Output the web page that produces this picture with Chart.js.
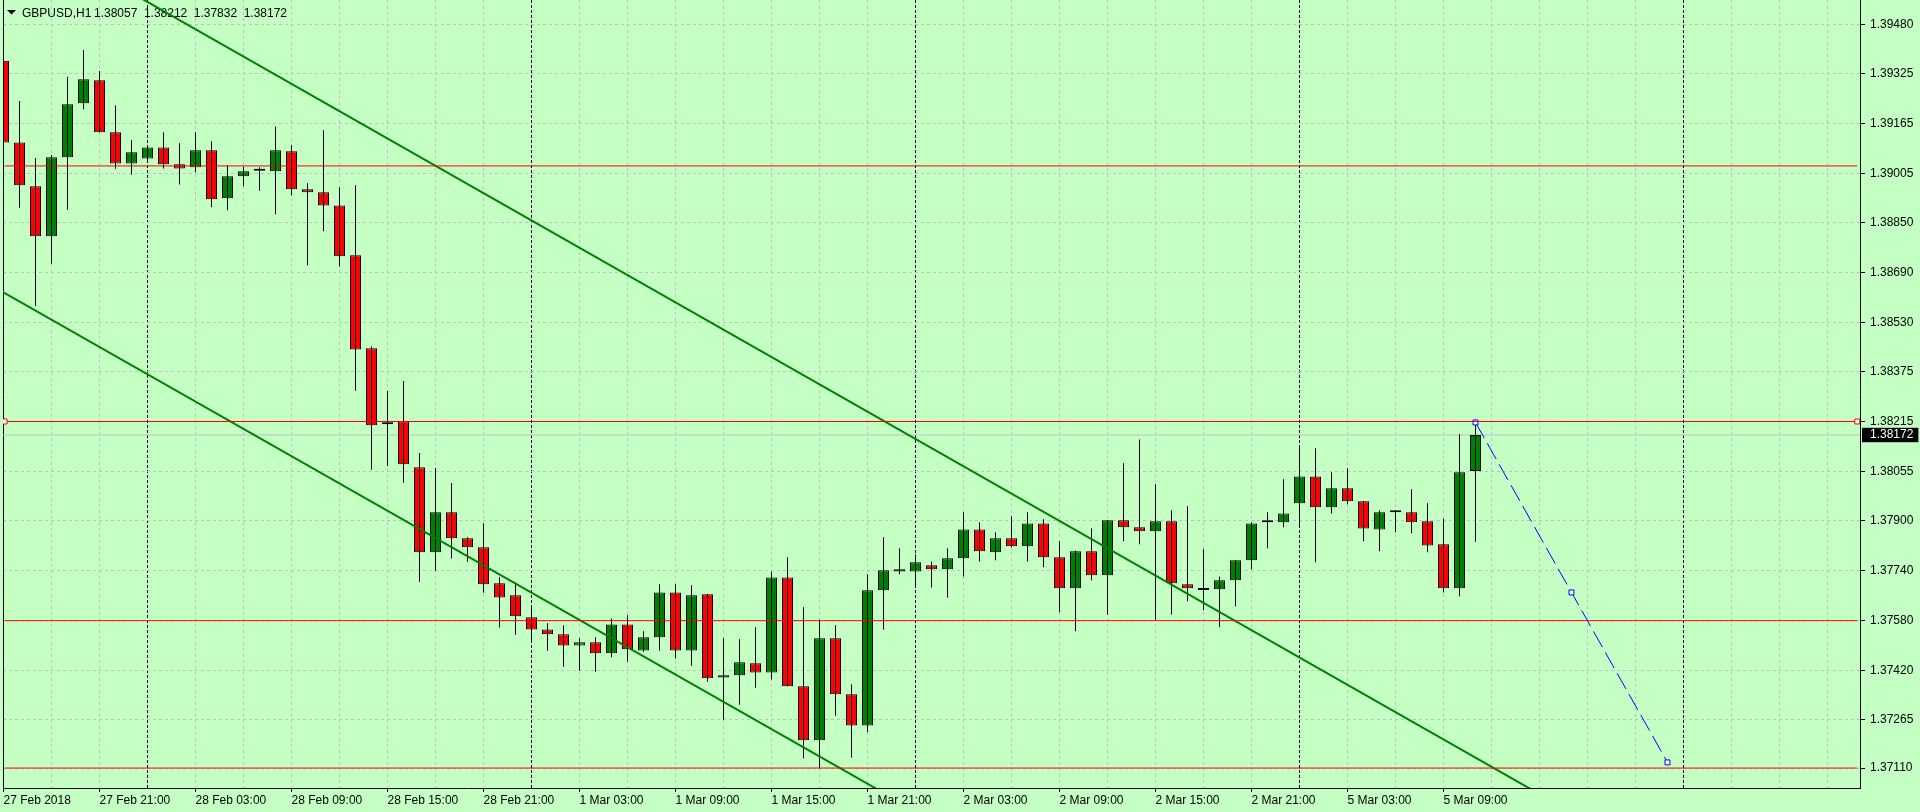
<!DOCTYPE html>
<html>
<head>
<meta charset="utf-8">
<script src="https://cdn.jsdelivr.net/npm/chart.js@4.4.0/dist/chart.umd.min.js"></script>
<style>
html,body{margin:0;padding:0;background:#c4ffc4;overflow:hidden}
canvas{display:block}
</style>
</head>
<body>
<canvas id="c" width="1920" height="812" style="width:1920px;height:812px"></canvas>
<script>
const symbol = 'GBPUSD,H1';
const opens = [1.39365,1.39105,1.38965,1.38806,1.39058,1.39230,1.39303,1.39137,1.39038,1.39054,
1.39089,1.39035,1.39026,1.39080,1.38927,1.38997,1.39015,1.39013,1.39077,1.38956,
1.38946,1.38904,1.38745,1.38449,1.38206,1.38216,1.38069,1.37798,1.37926,1.37843,
1.37814,1.37699,1.37661,1.37591,1.37552,1.37537,1.37501,1.37511,1.37476,1.37568,
1.37485,1.37527,1.37670,1.37485,1.37664,1.37399,1.37406,1.37444,1.37415,1.37718,
1.37371,1.37199,1.37524,1.37345,1.37246,1.37677,1.37737,1.37737,1.37757,1.37744,
1.37779,1.37871,1.37798,1.37843,1.37817,1.37890,1.37782,1.37683,1.37801,1.37725,
1.37900,1.37878,1.37865,1.37897,1.37696,1.37678,1.37680,1.37709,1.37773,1.37894,
1.37894,1.37954,1.38040,1.37942,1.38002,1.37961,1.37871,1.37926,1.37926,1.37897,
1.37824,1.37683,1.38057];
const highs = [1.39426,1.39237,1.39055,1.39065,1.39314,1.39400,1.39333,1.39223,1.39113,1.39089,
1.39137,1.39102,1.39137,1.39109,1.39032,1.39028,1.39026,1.39156,1.39096,1.38975,
1.39144,1.38962,1.38968,1.38454,1.38312,1.38344,1.38115,1.38067,1.38019,1.37846,
1.37890,1.37719,1.37702,1.37623,1.37572,1.37565,1.37524,1.37527,1.37587,1.37597,
1.37546,1.37696,1.37696,1.37693,1.37664,1.37524,1.37521,1.37559,1.37737,1.37782,
1.37623,1.37584,1.37565,1.37377,1.37728,1.37846,1.37811,1.37792,1.37769,1.37811,
1.37926,1.37894,1.37862,1.37913,1.37926,1.37903,1.37833,1.37804,1.37874,1.37900,
1.38082,1.38158,1.38015,1.37932,1.37945,1.37808,1.37721,1.37773,1.37894,1.37926,
1.38031,1.38136,1.38130,1.38053,1.38066,1.37961,1.37932,1.37932,1.37999,1.37954,
1.37905,1.38175,1.38212];
const lows = [1.39100,1.38897,1.38583,1.38718,1.38890,1.39211,1.39137,1.39021,1.39002,1.39045,
1.39022,1.38971,1.39010,1.38898,1.38889,1.38965,1.38951,1.38876,1.38936,1.38713,
1.38822,1.38709,1.38313,1.38061,1.38073,1.38020,1.37704,1.37739,1.37778,1.37768,
1.37669,1.37558,1.37535,1.37517,1.37484,1.37433,1.37420,1.37417,1.37463,1.37449,
1.37481,1.37485,1.37459,1.37436,1.37385,1.37264,1.37312,1.37366,1.37392,1.37371,
1.37141,1.37109,1.37277,1.37144,1.37224,1.37552,1.37728,1.37690,1.37686,1.37654,
1.37721,1.37769,1.37773,1.37814,1.37769,1.37750,1.37607,1.37546,1.37709,1.37599,
1.37833,1.37824,1.37582,1.37600,1.37642,1.37613,1.37559,1.37626,1.37743,1.37811,
1.37878,1.37881,1.37766,1.37922,1.37951,1.37833,1.37801,1.37862,1.37859,1.37798,
1.37670,1.37658,1.37832];
const closes = [1.39105,1.38968,1.38806,1.39058,1.39227,1.39306,1.39137,1.39038,1.39074,1.39089,
1.39035,1.39022,1.39080,1.38924,1.38997,1.39013,1.39015,1.39080,1.38956,1.38946,
1.38904,1.38742,1.38445,1.38203,1.38213,1.38079,1.37798,1.37926,1.37843,1.37814,
1.37696,1.37654,1.37594,1.37552,1.37537,1.37501,1.37511,1.37476,1.37568,1.37489,
1.37527,1.37670,1.37485,1.37661,1.37396,1.37406,1.37447,1.37415,1.37718,1.37371,
1.37199,1.37524,1.37345,1.37246,1.37677,1.37741,1.37744,1.37766,1.37744,1.37779,
1.37871,1.37801,1.37843,1.37817,1.37890,1.37782,1.37683,1.37801,1.37725,1.37900,
1.37878,1.37865,1.37897,1.37699,1.37683,1.37678,1.37709,1.37773,1.37890,1.37894,
1.37922,1.38040,1.37942,1.38002,1.37961,1.37874,1.37926,1.37926,1.37894,1.37820,
1.37683,1.38053,1.38172];

// time-axis labels, one every 6 bars starting at bar 0
const timeLabels = ['27 Feb 2018','27 Feb 21:00','28 Feb 03:00','28 Feb 09:00','28 Feb 15:00','28 Feb 21:00',
  '1 Mar 03:00','1 Mar 09:00','1 Mar 15:00','1 Mar 21:00','2 Mar 03:00','2 Mar 09:00','2 Mar 15:00',
  '2 Mar 21:00','5 Mar 03:00','5 Mar 09:00'];
const priceTicks = [1.39480,1.39325,1.39165,1.39005,1.38850,1.38690,1.38530,1.38375,1.38215,1.38055,
  1.37900,1.37740,1.37580,1.37420,1.37265,1.37110];
const bidPrice = 1.38172;
const hLevels = [1.39030, 1.38215, 1.37580, 1.37110];
const upperTrend = [{x: 8, y: 1.39582}, {x: 96, y: 1.37027}];
const lowerTrend = [{x: -1, y: 1.38656}, {x: 56, y: 1.37002}];
const projection = [{x: 92, y: 1.38212}, {x: 98, y: 1.37670}, {x: 104, y: 1.37128}];
const daySeparators = [9, 33, 57, 81, 105];
const gridStep = 3, labelStep = 6;

const X_MIN = -0.03125, X_MAX = 116.03125;
const Y_MIN = 1.370464, Y_MAX = 1.395591;
const GRID = '#c0c0c0';
const FONT = '"Liberation Sans", Arial, sans-serif';

Chart.defaults.font.family = FONT;
Chart.defaults.font.size = 12;
Chart.defaults.color = '#000';

const isBull = i => closes[i] >= opens[i];
const wickData = opens.map((_, i) => ({x: i, y: [lows[i], highs[i]]}));
const bodyData = opens.map((_, i) => ({x: i, y: [opens[i], closes[i]]}));

const lineDs = (data, color, width, extra) => Object.assign({
  type: 'line', data, borderColor: color, borderWidth: width, pointRadius: 0,
  fill: false, tension: 0, order: 1
}, extra || {});

const datasets = [];
hLevels.forEach(lv => {
  const sel = lv === 1.38215;
  datasets.push(lineDs([{x: X_MIN + 0.1, y: lv}, {x: X_MAX - 0.17, y: lv}], '#ff0000', 1, sel ? {
    pointRadius: 3.5, pointStyle: 'rect', pointBorderColor: '#ff0000', pointBackgroundColor: '#ffffff', pointBorderWidth: 1
  } : {}));
});
datasets.push(lineDs([{x: X_MIN, y: bidPrice}, {x: X_MAX, y: bidPrice}], '#c0c0c0', 1, {order: 3}));
datasets.push(lineDs(upperTrend, '#008000', 2));
datasets.push(lineDs(lowerTrend, '#008000', 2));
datasets.push(lineDs(projection, '#0000ff', 1, {
  borderDash: [18, 6], pointRadius: 3.5, pointStyle: 'rect', pointBorderColor: '#0000ff',
  pointBackgroundColor: '#ffffff', pointBorderWidth: 1
}));
datasets.push({
  type: 'bar', data: wickData, backgroundColor: '#000', borderWidth: 0, barThickness: 1,
  grouped: false, inflateAmount: 0, order: 2
});
datasets.push({
  type: 'bar', data: bodyData, backgroundColor: c => isBull(c.dataIndex) ? '#008000' : '#ff0000',
  borderColor: '#000', borderWidth: 1, borderSkipped: false, barThickness: 11, minBarLength: 2,
  grouped: false, inflateAmount: 0, order: 2
});

const titlePlugin = {
  id: 'mtTitle',
  beforeDatasetsDraw(chart) {
    const ctx = chart.ctx;
    ctx.save();
    ctx.fillStyle = '#000';
    ctx.beginPath();
    ctx.moveTo(7, 10); ctx.lineTo(16, 10); ctx.lineTo(11.5, 14.5); ctx.closePath();
    ctx.fill();
    ctx.font = '12px ' + FONT;
    ctx.textBaseline = 'alphabetic';
    ctx.textAlign = 'left';
    const n = opens.length - 1;
    let x = 22;
    ctx.fillText(symbol, x, 17);
    x = 94;
    [opens[n], highs[n], lows[n], closes[n]].forEach(v => {
      const s = v.toFixed(5);
      ctx.fillText(s, x, 17);
      x += ctx.measureText(s).width + 6.5;
    });
    ctx.restore();
  }
};

const noPad = s => { s.paddingTop = 0; s.paddingBottom = 0; s.paddingLeft = 0; s.paddingRight = 0; };

new Chart(document.getElementById('c'), {
  type: 'bar',
  data: {datasets},
  options: {
    responsive: false, animation: false, devicePixelRatio: 1,
    layout: {padding: 0, autoPadding: false},
    plugins: {legend: {display: false}, tooltip: {enabled: false}, title: {display: false}},
    scales: {
      x: {
        type: 'linear', position: 'bottom', min: X_MIN, max: X_MAX, offset: false,
        afterBuildTicks: s => {
          const t = [];
          for (let v = 0; v <= X_MAX; v += gridStep) t.push({value: v});
          s.ticks = t;
        },
        afterFit: s => { s.height = 24; noPad(s); },
        grid: {
          offset: false, lineWidth: 1,
          color: c => daySeparators.includes(c.tick.value) ? '#000000' : (c.tick.value === 0 ? 'rgba(0,0,0,0)' : GRID),
          tickLength: 4,
          tickColor: c => (c.tick.value % labelStep === 0 && c.tick.value / labelStep < timeLabels.length) ? '#000' : 'rgba(0,0,0,0)'
        },
        border: {display: true, color: '#000', width: 1,
          dash: c => (c.tick && daySeparators.includes(c.tick.value)) ? [3, 2] : [3, 3]},
        ticks: {
          autoSkip: false, maxRotation: 0, minRotation: 0, align: 'start', padding: 1,
          callback: v => (v % labelStep === 0 && v / labelStep < timeLabels.length) ? timeLabels[v / labelStep] : ''
        }
      },
      y: {
        type: 'linear', position: 'right', min: Y_MIN, max: Y_MAX, beginAtZero: false,
        afterBuildTicks: s => {
          s.ticks = priceTicks.concat([bidPrice]).sort((a, b) => a - b).map(v => ({value: v}));
        },
        afterFit: s => { s.width = 60; noPad(s); },
        grid: {
          lineWidth: 1,
          color: c => (c.tick && c.tick.value === bidPrice) ? 'rgba(0,0,0,0)' : GRID,
          tickLength: 5,
          tickColor: c => (c.tick && c.tick.value === bidPrice) ? 'rgba(0,0,0,0)' : '#000'
        },
        border: {display: true, color: '#000', width: 1, dash: [3, 3]},
        ticks: {
          autoSkip: false, padding: 5,
          color: c => (c.tick && c.tick.value === bidPrice) ? '#fff' : '#000',
          showLabelBackdrop: c => !!(c.tick && c.tick.value === bidPrice),
          backdropColor: '#000',
          backdropPadding: {top: 0, bottom: 0, left: 8, right: 5},
          callback: v => v.toFixed(5)
        }
      },
      yl: {
        type: 'linear', position: 'left', display: true, min: Y_MIN, max: Y_MAX,
        grid: {display: false, drawTicks: false},
        ticks: {display: false},
        border: {display: true, color: '#000', width: 1},
        afterFit: s => { s.width = 3; noPad(s); }
      }
    }
  },
  plugins: [titlePlugin]
});
</script>
</body>
</html>
